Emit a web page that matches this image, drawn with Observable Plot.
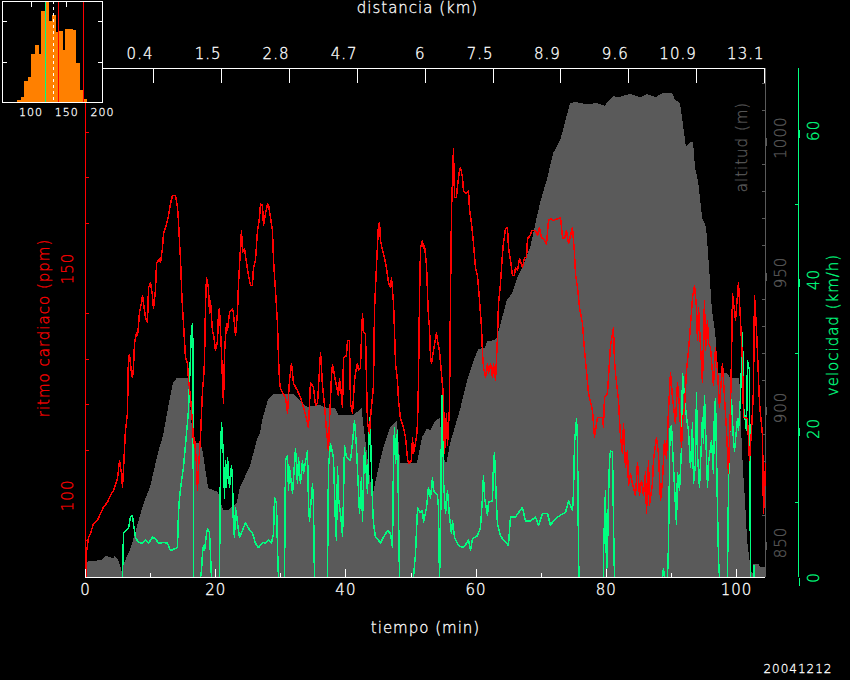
<!DOCTYPE html>
<html><head><meta charset="utf-8">
<script src="https://cdn.jsdelivr.net/npm/d3@7"></script>
<script src="https://cdn.jsdelivr.net/npm/@observablehq/plot@0.6"></script>
<style>
html,body{margin:0;padding:0;background:#000;width:850px;height:680px;overflow:hidden}
#chart{position:relative;width:850px;height:680px;background:#000}
#chart svg{position:absolute;left:0;top:0;background:transparent}
#chart svg *{shape-rendering:crispEdges}
#chart svg text{letter-spacing:1px;font-weight:200}
</style></head><body><div id="chart"></div>
<script>
const timeMax = 104.45;
const hrDomain = [81.9, 194.1];
const altDomain = [837, 1025.6];
const velDomain = [0, 68.3];
const altFloor = 837;

const timeMajor = [0,20,40,60,80,100];
const timeMinor = [10,30,50,70,90];
const hrMajor = [100,150];
const hrMinor = [90,110,120,130,140,160,170,180,190];
const altMajor = [850,900,950,1000];
const altMinor = [840,860,870,880,890,910,920,930,940,960,970,980,990,1010,1020];
const velMajor = [0,20,40,60];
const velMinor = [10,30,50];
const distTicks = [10.44,20.89,31.33,41.78,52.22,62.67,73.0,83.44,93.89,104.3];
const distLabels = ["0.4","1.5","2.8","4.7","6","7.5","8.9","9.6","10.9","13.1"];

const altitude = [[0,842.6],[2.6,843.3],[3.1,844.8],[3.8,844.4],[4.3,844],[4.6,844.8],[5.1,843.3],[5.4,841],[5.7,838.5],[5.8,837],[5.85,841.5],[6.9,847],[7.7,853.3],[8.9,863.7],[10,870.4],[11.2,883],[12,889.6],[12.7,899],[13.5,909],[14.1,910.7],[15.8,910.7],[16.2,899],[16.6,886.7],[17.7,886.7],[18.1,883.3],[18.9,870],[20.4,868.5],[21.2,861.9],[22,861.9],[23.3,864.4],[23.8,870.4],[25.3,877.8],[26.4,887.8],[26.9,890.7],[27.3,896],[28.1,902.6],[28.9,904.8],[32,904.8],[33,902.6],[34.1,900],[36.1,900.7],[37.2,899.6],[38.4,899.6],[38.9,897],[41.2,897],[42.5,899.6],[42.7,894.4],[43.8,873],[44.2,867.4],[44.9,875.6],[45.8,884.8],[46.9,892.6],[47.9,895],[48.4,879.3],[51,879.3],[51.8,888.9],[52.5,891.9],[53.1,891.5],[53.8,894.8],[54.5,896],[55,881],[55.5,879.3],[56.1,886.7],[57.1,895],[57.6,899],[58.7,910],[59.9,918.5],[60.4,921.5],[61.4,921.9],[61.8,924.4],[63,924.8],[63.3,926],[64.1,933.3],[64.8,939.6],[65.6,942.2],[66.4,947.8],[67.3,952.6],[68.4,959.3],[69.4,970.4],[69.9,975.6],[71,984.8],[71.9,994],[73,998.9],[73.7,1005.2],[74.5,1012.6],[75.3,1013],[77.1,1012.2],[78.6,1012.6],[79.9,1011.5],[80.2,1013],[81.1,1015.2],[81.9,1014.8],[83.7,1016],[85.3,1014.8],[86.3,1016],[87.6,1014.8],[88.8,1016.3],[90.2,1016.3],[90.6,1014],[91.4,1012.6],[91.7,1007.4],[92.3,996.3],[92.9,998.1],[93.4,998.1],[93.7,988.9],[94.2,983],[94.8,970],[95.4,966.7],[95.7,957],[96.3,936],[96.8,927.4],[97.1,917.4],[97.2,912.6],[98.6,912.6],[99.1,910.7],[100.5,910.7],[100.9,884.8],[101.1,875.6],[101.4,864.4],[101.7,850.7],[102,844.4],[102.5,837],[102.6,841.9],[103.5,841.9],[103.7,840.7],[104.45,840.7]];

const heartRate = [[0.08,81.9],[0.15,87.4],[0.46,90.7],[0.77,91.6],[1.23,93.8],[1.84,94.5],[2.3,96],[2.76,97.4],[3.38,98.5],[3.84,100],[4.3,101.1],[4.92,103.7],[5.22,107.7],[5.53,104.8],[5.68,101.8],[5.84,105.9],[6.14,114.3],[6.45,118.1],[6.53,125.3],[6.6,130.4],[6.76,131.1],[7.07,126.9],[7.22,126],[7.37,128.2],[7.53,133.5],[7.83,135.9],[7.99,135.2],[8.14,137.5],[8.29,140.3],[8.6,142.5],[8.76,144.1],[8.91,142.3],[9.22,139.2],[9.52,138.1],[9.68,145.8],[9.98,146.9],[10.29,144.1],[10.44,141.2],[10.75,145.2],[10.91,151.1],[11.37,152.2],[11.52,151.3],[11.83,154.6],[11.98,157.7],[12.29,159],[12.6,160.6],[12.75,161.7],[13.06,164.3],[13.36,166.1],[13.82,166.1],[14.13,163.4],[14.28,160.6],[14.44,155.7],[14.59,152.2],[14.75,145.8],[14.9,141.4],[15.05,137.9],[15.36,130.4],[15.67,129.1],[15.82,125.6],[16.13,121.6],[16.44,115.9],[16.59,111.5],[16.74,112.8],[17.05,107],[17.2,101.1],[17.36,106.2],[17.66,112.8],[17.97,123.1],[18.12,125.6],[18.28,129.3],[18.43,141.9],[18.59,148],[18.89,145.8],[19.05,140.1],[19.2,143],[19.51,135.9],[19.66,135.7],[19.97,131.9],[20.28,134.1],[20.43,140.3],[20.58,141.2],[20.89,131.5],[21.04,125.3],[21.2,120.3],[21.35,131.5],[21.66,137.9],[21.81,136.4],[22.12,140.3],[22.58,141.2],[22.73,140.1],[23.04,135.2],[23.35,140.3],[23.5,146.7],[23.96,158.4],[24.12,153.5],[24.42,154.4],[24.73,151.3],[25.04,148.5],[25.34,146.3],[25.65,146.3],[25.8,150.2],[26.11,151.8],[26.42,158.4],[26.73,161.2],[26.88,164.3],[27.19,163.9],[27.34,159.5],[27.65,162.1],[27.96,164.3],[28.11,164.1],[28.42,161.2],[28.72,158.4],[28.88,151.8],[29.18,145.2],[29.49,137.9],[29.64,130.4],[29.8,125.3],[29.95,123.6],[30.26,122.7],[30.72,121.6],[31.03,118.1],[31.33,125.3],[31.64,129.1],[31.95,124.7],[32.56,123.1],[33.02,121.6],[33.64,118.7],[34.25,115],[34.56,124.9],[35.02,123.8],[35.33,119.8],[35.64,120.3],[36.1,131.5],[36.4,124.2],[36.71,119.8],[37.02,114.3],[37.32,109.9],[37.48,116.5],[37.79,126.4],[37.94,128.9],[38.25,126.4],[38.55,124.2],[38.86,122],[39.01,125.8],[39.32,122],[39.48,119.4],[39.63,130.4],[40.09,130.8],[40.24,134.1],[40.55,134.1],[40.7,120.3],[41.01,118.1],[41.32,125.3],[41.47,126.9],[41.78,129.1],[41.93,127.5],[42.24,128.2],[42.39,134.8],[42.55,140.1],[42.7,135.9],[43.01,135.7],[43.16,125.3],[43.32,115.9],[43.62,113.7],[43.78,117.2],[44.24,124.2],[44.39,140.8],[44.7,150.7],[45,159.5],[45.16,160.1],[45.31,156.2],[45.62,154],[45.93,152.4],[46.23,150.2],[46.54,146.9],[46.85,145.8],[47,148],[47.31,142.5],[47.46,136.4],[47.62,129.1],[47.92,125.3],[48.08,120.9],[48.38,117],[48.84,115],[49.15,112.8],[49.46,108.2],[49.61,107],[50.07,107.7],[50.23,112.8],[50.38,109.3],[50.84,112.8],[51,115.9],[51.15,125.3],[51.3,143],[51.46,154.6],[51.76,156.2],[51.92,154.4],[52.07,155.1],[52.38,150.7],[52.53,144.7],[52.68,139.2],[52.84,137],[52.99,130.4],[53.15,129.1],[53.45,131.9],[53.91,135.9],[54.07,134.1],[54.37,131.9],[54.68,126.9],[54.84,124.2],[54.99,121.6],[55.14,109.3],[55.45,118.1],[55.6,111],[55.91,119.4],[56.06,143],[56.22,162.8],[56.52,176.4],[56.68,165.7],[56.99,165.7],[57.14,168.3],[57.45,171.6],[57.6,172.3],[57.91,170.1],[58.06,167.2],[58.52,166.5],[58.83,167.2],[58.98,163.2],[59.29,159.9],[59.6,155.5],[59.9,150.2],[60.21,148.5],[60.52,143],[60.83,137],[60.98,131.3],[61.13,128.2],[61.44,126],[61.75,129.1],[61.9,126.9],[62.21,129.1],[62.52,126],[62.67,129.1],[62.98,125.3],[63.28,134.8],[63.44,142.3],[63.74,146.7],[64.05,153.3],[64.2,155.5],[64.51,158.8],[64.82,159],[64.97,154.6],[65.28,151.8],[65.59,148.5],[65.89,148.5],[66.05,150.2],[66.36,149.6],[66.66,152.2],[67.12,150.2],[67.43,152.4],[67.74,152.4],[67.89,156.6],[68.35,157.3],[68.51,158.4],[69.12,158.4],[69.43,157.3],[69.73,159],[70.04,156.8],[70.35,156.6],[70.81,155.3],[71.12,160.6],[71.42,161],[71.88,160.6],[72.96,161.2],[73.27,156.8],[73.57,156.6],[73.88,158.4],[74.19,155.5],[74.8,159],[75.11,153.5],[75.26,148.9],[75.57,145.8],[75.88,141.4],[76.34,137.9],[76.65,131.9],[76.8,129.7],[77.26,122.5],[77.88,118.7],[78.18,112.8],[78.64,117.2],[79.41,117.2],[79.56,115],[79.72,121.6],[80.18,122.5],[80.49,129.7],[80.64,133],[81.1,137],[81.25,129.7],[81.41,126.9],[81.87,120.9],[82.18,112.8],[82.48,109.3],[82.64,115.9],[82.94,106.2],[83.25,109.9],[83.4,102.2],[83.71,104.8],[84.02,102.6],[84.48,100],[84.79,107.3],[85.09,100],[85.4,103.3],[85.71,100],[86.02,105.1],[86.17,96],[86.48,107.7],[86.63,97.8],[87.09,102.6],[87.24,107.7],[87.7,112.8],[88.01,109.3],[88.32,98.9],[88.63,103.3],[88.93,112.1],[89.24,108.2],[89.55,118.7],[89.86,127.1],[90.16,121.6],[90.62,115.9],[90.93,124.9],[91.24,119.4],[91.55,110.6],[91.7,116.5],[92.01,119.4],[92.31,127.5],[92.62,131.9],[92.93,137.5],[93.24,143.6],[93.54,146.3],[93.85,141.4],[94,134.1],[94.16,141.4],[94.46,133],[94.77,124.9],[95.08,143],[95.23,131.9],[95.54,138.6],[95.69,133.5],[96,132.6],[96.46,124.2],[96.77,132.6],[97.08,127.5],[97.38,119.4],[97.84,129.1],[98,125.3],[98.46,114.3],[98.76,104.8],[99.07,119.4],[99.23,130.4],[99.38,144.5],[99.84,138.6],[100.3,146.9],[100.61,138.6],[100.92,129.3],[101.07,117.2],[101.68,117],[101.99,107.7],[102.3,114.3],[102.6,123.1],[102.76,144.1],[103.07,136.4],[103.22,131.3],[103.53,120.3],[103.99,113.2],[104.14,96],[104.3,100.4],[104.45,107]];

const speed = [[5.68,0],[5.84,5.9],[6.14,6.3],[6.6,6.6],[6.91,8.1],[7.22,8.3],[7.37,7.2],[7.68,5.4],[8.14,4.7],[8.76,4.6],[9.22,5],[9.68,4.6],[10.29,5.4],[10.75,5.2],[11.21,4.6],[11.98,4.7],[12.6,4.6],[13.06,3.6],[13.82,3.9],[14.13,4],[14.28,8.6],[14.44,10.7],[14.75,13],[15.05,14.8],[15.51,19.3],[15.82,22.4],[16.28,33.4],[16.44,34.1],[16.51,30.2],[16.59,0],[17.66,0],[17.82,0.9],[17.97,3.2],[18.12,4.3],[18.28,3.6],[18.59,5.9],[18.74,6.6],[19.05,6],[19.35,0],[20.58,0],[20.74,16.1],[20.89,20.8],[21.2,16.1],[21.35,10.7],[21.5,15.7],[21.66,12.1],[21.81,16.1],[22.12,12.1],[22.43,15],[22.58,13],[22.73,6.7],[22.89,5.4],[23.04,9.3],[23.19,8.6],[23.35,7.2],[23.65,5.4],[24.12,6.3],[24.58,7.4],[25.04,6.6],[25.65,5.9],[26.11,4.6],[26.57,4],[27.19,4.7],[27.65,4.6],[28.11,5],[28.57,4.6],[28.88,5.9],[29.03,10.7],[29.34,9.9],[29.49,4],[29.64,0],[30.57,0],[30.72,15.7],[31.03,16.4],[31.18,11.7],[31.33,14.8],[31.8,11.3],[32.26,17.3],[32.56,12.6],[32.72,16.1],[33.02,12.6],[33.33,15.7],[33.48,14],[34.1,17],[34.25,9.9],[34.41,7.6],[34.87,12.6],[35.02,9.9],[35.17,0],[37.17,0],[37.32,14.8],[37.63,18],[38.09,16.1],[38.4,7.2],[38.55,5],[38.71,14.8],[38.86,10.7],[39.17,8.6],[39.48,5.6],[39.63,10.7],[39.78,17.7],[40.09,16.1],[40.7,15.7],[41.01,18],[41.32,21.1],[41.63,17.4],[41.93,11.7],[42.09,8.6],[42.39,13.4],[42.55,7.6],[42.85,17.4],[43.01,15.7],[43.32,11.3],[43.62,21.5],[43.78,18.8],[44.08,9.9],[44.24,7.2],[44.54,5.4],[45,5],[45.31,4.6],[45.77,5.4],[46.39,6.3],[46.85,5.9],[47.16,4],[47.31,15.7],[47.46,20.1],[47.62,15.3],[47.92,19.7],[48.08,8.6],[48.23,0],[50.38,0],[50.69,3.2],[50.84,6.3],[51,9.3],[51.46,8.7],[51.76,9],[51.92,7.4],[52.38,9.4],[52.68,12.1],[52.99,10.7],[53.3,13.4],[53.45,11.7],[54.07,11],[54.22,9.4],[54.37,0],[54.53,4.6],[54.68,20.7],[54.84,25.8],[54.99,13],[55.3,8.6],[55.6,11.7],[55.91,8.1],[56.22,5.9],[56.37,7.6],[56.68,5.4],[57.29,4.3],[58.06,4],[58.83,5],[59.14,3.6],[59.44,5.2],[60.21,5.6],[60.67,6.7],[60.98,10.7],[61.13,13.7],[61.29,10.7],[61.75,8.3],[61.9,10.1],[62.52,10.3],[62.67,15.3],[62.82,16.8],[63.13,9.7],[63.28,7.2],[63.74,5.6],[64.2,5],[64.97,4.3],[65.28,8.1],[66.05,8.1],[66.51,8.7],[67.12,9.4],[67.58,7.6],[68.35,7.6],[69.12,8.1],[69.58,7],[70.2,8.6],[70.96,8.6],[71.42,7],[71.88,7.6],[72.81,8.3],[73.73,8.7],[74.19,10.3],[74.8,9],[74.96,11.3],[75.11,18],[75.42,21.3],[75.57,18.4],[75.72,4],[75.8,0],[79.56,0],[79.6,4.3],[79.87,11.7],[80.03,0.5],[80.18,3.6],[80.33,10.6],[80.49,15.7],[80.64,17],[80.95,16.8],[81.1,7.4],[81.25,0],[88.63,0],[88.78,1.2],[88.93,0],[89.4,0],[89.55,4.3],[89.7,14.4],[89.78,20],[90.01,20.4],[90.32,14.8],[90.62,9.7],[90.78,7.2],[90.93,14.1],[91.24,11.7],[91.55,17.4],[91.7,27.4],[92.01,24.2],[92.31,21.5],[92.62,19.7],[92.93,14.8],[93.24,20.7],[93.39,12.6],[93.7,15.3],[93.85,24.8],[94,16.6],[94.31,12.1],[94.77,21.5],[94.92,18],[95.08,24.4],[95.39,16.1],[95.54,12.1],[95.69,15.3],[96.15,18.4],[96.46,14],[96.61,22.7],[96.77,24],[97.08,9],[97.23,2.5],[97.38,0],[98.61,0],[98.76,11.7],[98.92,18.8],[99.23,23.8],[99.53,18.4],[99.69,17],[100.15,21.3],[100.3,19.7],[100.61,24.2],[100.92,32.9],[101.07,22.8],[101.22,22.1],[101.53,19.7],[101.68,29.1],[101.99,27.8],[102.07,14],[102.14,0],[102.6,0],[102.68,1.6],[102.76,0]];

// inset histogram
const binStart = [81.5,86.3,91.1,95.9,100.7,105.5,110.3,115.1,119.9,124.7,129.5,134.3,139.1,143.9,148.7,153.5,158.3,163.1,167.9,172.7];
const binWidth = 4.8;
const binCount = [0.6,1.3,5.1,6.3,11.9,14.2,11.9,22.6,26,20.1,21.6,17.3,17.6,12.9,18.1,18.1,17.9,9.7,3,0.8];
const histTicks = [100,150,200];
const histRowTicks = [10,20];
const markerGreen = 120.8, markerWhite = 132, markerRed = [139,173.6];

const font = "'DejaVu Sans', sans-serif";
const WHITE="#fff", RED="#ff0000", GREY="#5a5a5a", GREEN="#00ff80", ORANGE="#ff8000";
const FS = 15;

function layer(y, marks){
  return Plot.plot({
    width:850, height:680,
    marginLeft:85, marginRight:85, marginTop:68, marginBottom:103,
    x:{domain:[0,timeMax], axis:null},
    y:{domain:y, axis:null},
    style:{fontFamily:font, fontSize:FS+"px", background:"transparent", overflow:"visible"},
    marks
  });
}
const rotAxis = (ticks, anchor, color, size, pad, dx=0) => Plot.axisY(ticks, {
  anchor, stroke:color, fill:color, tickSize:size, tickPadding:pad, dx,
  rotate:-90, textAnchor:"middle", lineAnchor:"middle", label:null, fontSize:FS,
  tickFormat:d=>String(d)
});
const tickOnly = (ticks, anchor, color, size, dx=0) => Plot.axisY(ticks, {
  anchor, stroke:color, tickSize:size, dx, label:null, tickFormat:()=>""
});

const altLayer = layer(altDomain, [
  Plot.areaY(altitude, {x:d=>d[0], y1:()=>altFloor, y2:d=>d[1], fill:GREY}),
  Plot.ruleX([timeMax], {stroke:GREY, strokeWidth:1}),
  rotAxis(altMajor,"right",GREY,-8,24),
  tickOnly(altMinor,"right",GREY,-4),
  Plot.text(["altitud (m)"], {frameAnchor:"right", textAnchor:"middle", dx:-23, dy:-176, rotate:-90, fill:GREY, fontSize:FS})
]);

const velLayer = layer(velDomain, [
  Plot.line(speed, {x:d=>d[0], y:d=>d[1], stroke:GREEN, strokeWidth:1.5}),
  Plot.ruleX([timeMax], {stroke:GREEN, strokeWidth:1, dx:33}),
  rotAxis(velMajor,"right",GREEN,-8,24,33),
  tickOnly(velMinor,"right",GREEN,-4,33),
  Plot.text(["velocidad (km/h)"], {frameAnchor:"right", textAnchor:"middle", dx:68, dy:2, rotate:-90, fill:GREEN, fontSize:FS})
]);

const hrLayer = layer(hrDomain, [
  Plot.line(heartRate, {x:d=>d[0], y:d=>d[1], stroke:RED, strokeWidth:1.5}),
  Plot.ruleX([0], {stroke:RED, strokeWidth:1}),
  rotAxis(hrMajor,"left",RED,-8,25),
  tickOnly(hrMinor,"left",RED,-4),
  Plot.text(["ritmo cardiaco (ppm)"], {frameAnchor:"left", textAnchor:"middle", dx:-41, dy:5, rotate:-90, fill:RED, fontSize:FS}),
  Plot.ruleY([hrDomain[0],hrDomain[1]], {stroke:WHITE, strokeWidth:1}),
  Plot.axisX(timeMajor, {anchor:"bottom", stroke:WHITE, fill:WHITE, tickSize:-8, tickPadding:15, label:null, fontSize:FS}),
  Plot.axisX(timeMinor, {anchor:"bottom", stroke:WHITE, tickSize:-4, label:null, tickFormat:()=>""}),
  Plot.axisX(distTicks, {anchor:"top", stroke:WHITE, fill:WHITE, tickSize:-14, tickPadding:24, textAnchor:"end", label:null, fontSize:FS,
    tickFormat:(d,i)=>distLabels[i]}),
  Plot.text(["tiempo (min)"], {frameAnchor:"bottom", dy:55, fill:WHITE, fontSize:FS}),
  Plot.text(["distancia (km)"], {frameAnchor:"top", dx:-8, dy:-66, fill:WHITE, fontSize:FS}),
  Plot.text(["20041212"], {frameAnchor:"bottom-right", dx:67, dy:95, fill:WHITE, fontSize:12, textAnchor:"end"})
]);

const inset = Plot.plot({
  width:125, height:122, marginLeft:2, marginRight:23, marginTop:1, marginBottom:20,
  x:{domain:[60,200], axis:null},
  y:{domain:[0,25], axis:null},
  style:{fontFamily:font, fontSize:"11px", background:"transparent", overflow:"visible"},
  marks:[
    Plot.frame({fill:"#000", stroke:"none"}),
    Plot.rectY(binStart, {x1:d=>d, x2:d=>d+binWidth, y:(d,i)=>binCount[i], fill:ORANGE, clip:"frame", insetLeft:0, insetRight:-0.6}),
    Plot.ruleX([markerGreen], {stroke:GREEN, strokeWidth:1}),
    Plot.ruleX([markerWhite], {stroke:WHITE, strokeWidth:1, strokeDasharray:"3,3"}),
    Plot.ruleX(markerRed, {stroke:RED, strokeWidth:1}),
    Plot.frame({stroke:WHITE, strokeWidth:1}),
    Plot.axisX(histTicks, {anchor:"bottom", stroke:null, fill:WHITE, tickSize:0, tickPadding:6, label:null, fontSize:11}),
    Plot.axisX(histTicks.slice(0,2), {anchor:"top", stroke:WHITE, tickSize:-5, label:null, tickFormat:()=>""}),
    Plot.axisY(histRowTicks, {anchor:"left", stroke:WHITE, tickSize:-5, label:null, tickFormat:()=>""}),
    Plot.axisY(histRowTicks, {anchor:"right", stroke:WHITE, tickSize:-5, label:null, tickFormat:()=>""})
  ]
});

const chart = document.getElementById("chart");
[altLayer, velLayer, hrLayer, inset].forEach(p => chart.appendChild(p));
// give the thin labels the same ink as the reference's vector font
chart.querySelectorAll("text").forEach(t => {
  const g = t.closest("[fill]");
  if (g) { t.style.stroke = t.getAttribute("fill") || g.getAttribute("fill"); t.style.strokeWidth = "0.3px"; }
});
</script></body></html>
